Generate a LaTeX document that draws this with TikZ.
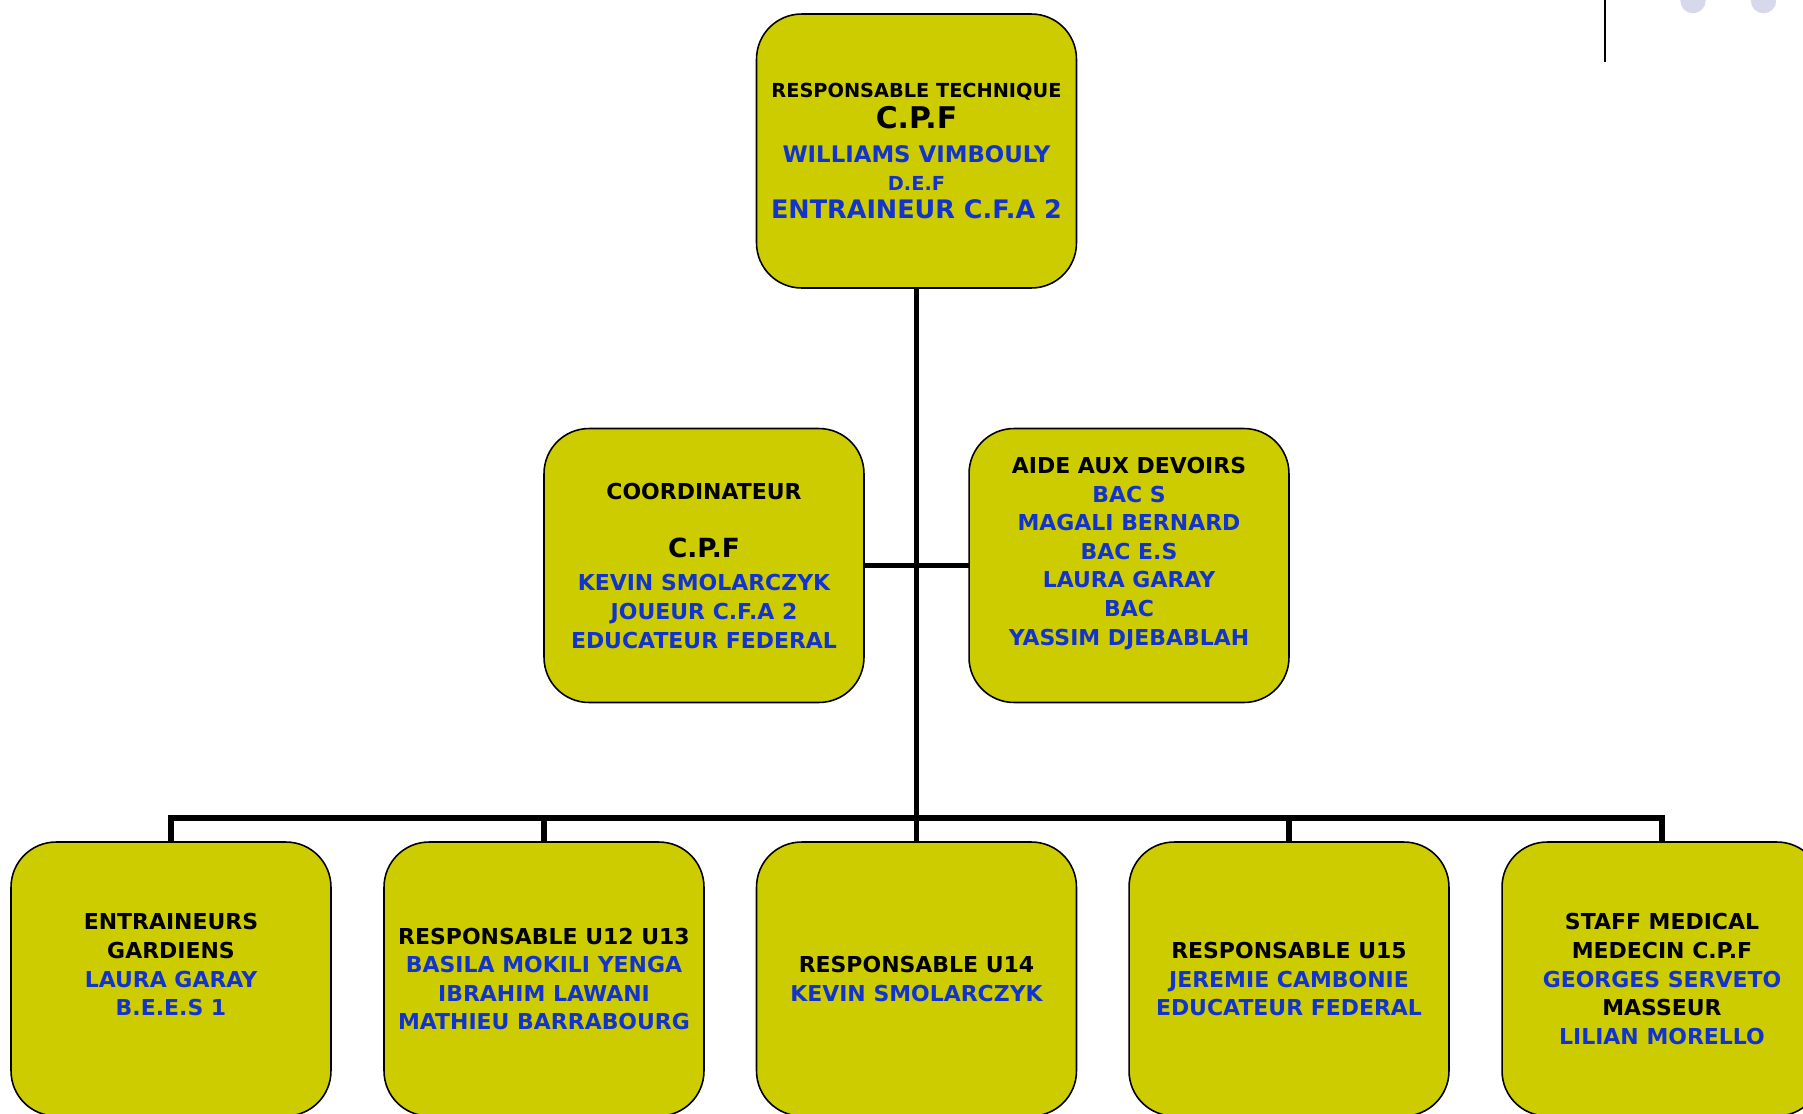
\documentclass[tikz,border=0pt]{standalone}
\usepackage{fontspec}
\setmainfont{DejaVu Sans}
\definecolor{boxfill}{RGB}{204,204,0}
\definecolor{nameblue}{RGB}{18,52,204}
\definecolor{dotgrey}{RGB}{216,216,236}
\newcommand{\bl}[1]{\textcolor{nameblue}{#1}}
\newcommand{\fs}[1]{\fontsize{#1}{16.3pt}\selectfont}
\begin{document}
\begin{tikzpicture}[x=0.02cm,y=-0.02cm,
        orgbox/.style={draw,line width=0.9pt,fill=boxfill,rounded corners=0.9cm,
            minimum width=6.4cm,minimum height=5.48cm,inner sep=0pt,outer sep=0pt,
            align=center,font=\bfseries\fontsize{12.5}{16.3}\selectfont},
        link/.style={line width=3.2pt}]
        \useasboundingbox (0,0) rectangle (1803,1113);
        % top of the chart
        \node[orgbox] (tech) at (916.5,151) {{\fs{11}RESPONSABLE TECHNIQUE}\\[1.3pt]
            {\fs{17}C.P.F}\\[3.3pt] {\fs{13}\bl{WILLIAMS VIMBOULY}}\\[-0.7pt]
            {\fs{11}\bl{D.E.F}}\\ {\fs{14.5}\bl{ENTRAINEUR C.F.A 2}}};
        % middle row
        \node[orgbox] (coord) at (704,565.5) {COORDINATEUR\\[17pt] {\fs{15}C.P.F}\\[2.6pt]
            \bl{KEVIN SMOLARCZYK}\\ \bl{JOUEUR C.F.A 2}\\ \bl{EDUCATEUR FEDERAL}};
        \node[orgbox] (aide) at (1129,565.5) {AIDE AUX DEVOIRS\\ \bl{BAC S}\\ \bl{MAGALI BERNARD}\\
            \bl{BAC E.S}\\ \bl{LAURA GARAY}\\ \bl{BAC}\\ \bl{YASSIM DJEBABLAH}\\ \mbox{}};
        % bottom row
        \node[orgbox] (gk) at (171,979) {ENTRAINEURS\\ GARDIENS\\ \bl{LAURA GARAY}\\ \bl{B.E.E.S 1}\\ \mbox{}};
        \node[orgbox] (u1213) at (544,979) {RESPONSABLE U12 U13\\ \bl{BASILA MOKILI YENGA}\\
            \bl{IBRAHIM LAWANI}\\ \bl{MATHIEU BARRABOURG}};
        \node[orgbox] (u14) at (916.5,979) {RESPONSABLE U14\\ \bl{KEVIN SMOLARCZYK}};
        \node[orgbox] (u15) at (1289,979) {RESPONSABLE U15\\ \bl{JEREMIE CAMBONIE}\\ \bl{EDUCATEUR FEDERAL}};
        \node[orgbox] (med) at (1662,979) {STAFF MEDICAL\\ MEDECIN C.P.F\\ \bl{GEORGES SERVETO}\\
            MASSEUR\\ \bl{LILIAN MORELLO}};
        % links
        \coordinate (bus) at (916.5,818);
        \draw[link] (tech.south) -- (u14.north);
        \draw[link] (gk.north) |- (bus) -| (med.north);
        \draw[link] (u1213.north) -- (u1213.north |- bus);
        \draw[link] (u15.north) -- (u15.north |- bus);
        \draw[link] (coord.east) -- (aide.west);
        % corner of the slide
        \draw[line width=1.2pt] (1605,0) -- (1605,62);
        \fill[dotgrey] (1693,0.6) circle[radius=0.254cm];
        \fill[dotgrey] (1763.5,0.6) circle[radius=0.254cm];
\end{tikzpicture}
\end{document}
